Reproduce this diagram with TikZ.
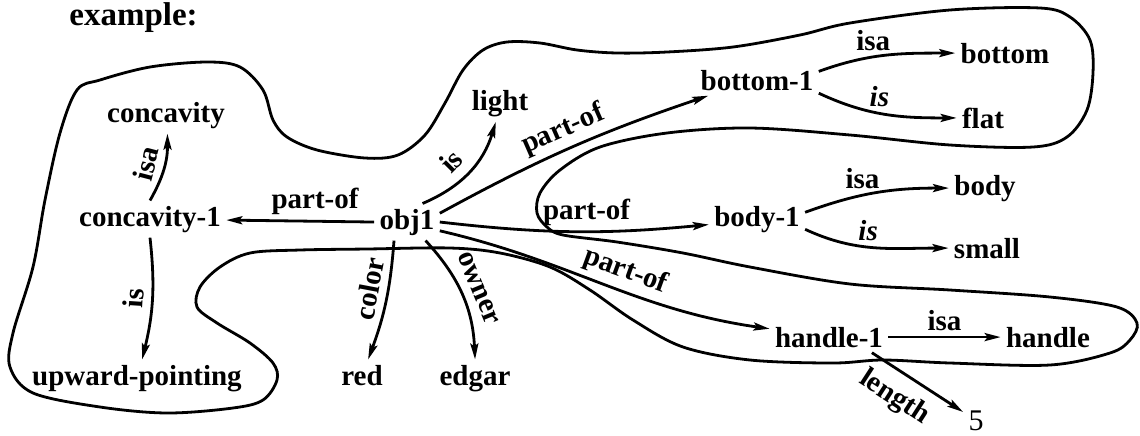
\documentclass[tikz,border=0pt]{standalone}
\usepackage{fontspec}
\setmainfont{Liberation Serif}
\usetikzlibrary{arrows.meta}

\begin{document}
\begin{tikzpicture}[x=0.5pt, y=0.5pt, line width=1.4pt,
  every node/.style={font=\bfseries\fontsize{14.5}{17}\selectfont},
  concept/.style={anchor=base, inner sep=2pt},
  rel/.style={-{Stealth[length=8pt, width=4pt, inset=1.5pt]}},
  lbl/.style={inner sep=2.5pt}]
  \useasboundingbox (0,0) rectangle (1140,-435);

  \node[anchor=base west, inner sep=0pt, font=\bfseries\fontsize{16.5}{19}\selectfont] (title) at (68,-25) {example:};

  % Outline round the object
  \draw plot[smooth cycle, tension=0.55] coordinates {
    (60,-133) (77,-90) (100,-80) (150,-67) (207,-62) (240,-67) (263,-90) (273,-120)
    (287,-137) (317,-150) (365,-158) (398,-155) (425,-135) (445,-103) (463,-70) (483,-50) (507,-42)
    (540,-43) (577,-50) (617,-53) (667,-52) (733,-47) (800,-35) (850,-23) (950,-10)
    (1040,-8) (1070,-17) (1090,-40) (1093,-73) (1087,-110) (1067,-137) (1033,-147) (950,-145)
    (850,-135) (750,-128) (667,-133) (600,-147) (560,-170) (540,-193) (537,-213) (547,-227)
    (563,-235) (617,-242) (683,-253) (750,-267) (850,-284) (950,-290) (1050,-297) (1117,-307)
    (1137,-323) (1130,-340) (1110,-353) (1050,-365) (950,-363) (883,-360) (833,-363) (750,-360)
    (683,-347) (633,-320) (590,-290) (550,-267) (500,-253) (450,-248) (367,-249) (300,-250)
    (250,-253) (220,-267) (200,-287) (197,-307) (217,-323) (250,-343) (273,-363) (277,-380)
    (263,-400) (233,-408) (167,-413) (100,-407) (33,-393) (10,-367) (13,-333) (33,-267)
    (45,-200)};

  % Concepts
  \node[concept] (obj) at (407,-229) {obj1};
  \node[concept] (concA) at (150,-226) {concavity-1};
  \node[concept] (conc) at (166,-122) {concavity};
  \node[concept] (upw) at (137,-385) {upward-pointing};
  \node[concept] (red) at (362,-385) {red};
  \node[concept] (edgar) at (475,-385) {edgar};
  \node[concept] (light) at (500,-110) {light};
  \node[concept] (botA) at (757,-90) {bottom-1};
  \node[concept] (bottom) at (1005,-63) {bottom};
  \node[concept] (flat) at (983,-128) {flat};
  \node[concept] (bodyA) at (757,-226) {body-1};
  \node[concept] (body) at (985,-195) {body};
  \node[concept] (small) at (987,-258) {small};
  \node[concept] (handA) at (829,-347) {handle-1};
  \node[concept] (handle) at (1048,-347) {handle};
  \node[concept, font=\fontsize{15}{17}\selectfont] (five) at (976,-430) {5};

  % Links from obj1
  \draw[rel] (obj.west) -- node[lbl, above, pos=0.4] {part-of} (concA);
  \draw[rel] (obj.50) to[bend right=25] node[lbl, above=2pt, sloped, pos=0.45] {is} (light);
  \draw[rel] (obj.15) to[bend left=5] node[lbl, above, sloped] {part-of} (botA);
  \draw[rel] (obj.east) to[bend right=6] node[lbl, above, pos=0.55] {part-of} (bodyA);
  \draw[rel] (obj.-15) to[out=-13, in=172] node[lbl, above, sloped, pos=0.55] {part-of} (handA);
  \draw[rel] (obj.-125) to[bend left=8] node[lbl, above=1pt, sloped, pos=0.42] {color} (red);
  \draw[rel] (obj.-45) to[bend left=20] node[lbl, above=2pt, sloped, pos=0.5] {owner} (edgar);

  % Concavity
  \draw[rel] (concA.north) to[bend right=15] node[lbl, above=1pt, sloped] {isa} (conc);
  \draw[rel] (concA.south) to[bend left=10] node[lbl, above=1pt, sloped] {is} (upw);

  % Parts
  \draw[rel] (botA.8) to[out=20, in=180] node[lbl, above, pos=0.4] {isa} (bottom);
  \draw[rel] (botA.-12) to[out=-25, in=180] node[lbl, above, pos=0.45] {\itshape is} (flat);
  \draw[rel] (bodyA.8) to[out=20, in=180] node[lbl, above, pos=0.4] {isa} (body);
  \draw[rel] (bodyA.-12) to[out=-25, in=180] node[lbl, above, pos=0.45] {\itshape is} (small);
  \draw[rel] (handA) -- node[lbl, above] {isa} (handle);
  \draw[rel] (handA.-20) -- node[lbl, below=3pt, sloped, pos=0.4] {length} (five);
\end{tikzpicture}
\end{document}
